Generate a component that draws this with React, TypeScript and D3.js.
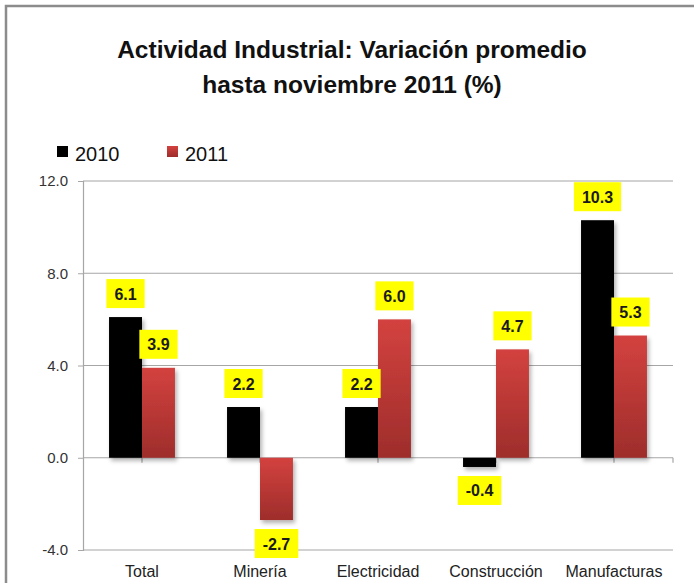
import React, { useEffect, useRef } from "react";
import * as d3 from "d3";

const categories = ["Total", "Minería", "Electricidad", "Construcción", "Manufacturas"];
const seriesNames = ["2010", "2011"];
const values2010 = [6.1, 2.2, 2.2, -0.4, 10.3];
const values2011 = [3.9, -2.7, 6.0, 4.7, 5.3];
const yTicks = [-4, 0, 4, 8, 12];
const titleLines = ["Actividad Industrial: Variación promedio", "hasta noviembre 2011 (%)"];

const W = 694;
const H = 583;
const fmt = (v: number) => v.toFixed(1);

export default function App() {
  const ref = useRef<SVGSVGElement | null>(null);

  useEffect(() => {
    const svg = d3.select(ref.current);
    svg.selectAll("*").remove();

    const defs = svg.append("defs");
    const grad = defs
      .append("linearGradient")
      .attr("id", "redGrad")
      .attr("x1", 0)
      .attr("y1", 0)
      .attr("x2", 0)
      .attr("y2", 1);
    grad.append("stop").attr("offset", "0%").attr("stop-color", "#d3423f");
    grad.append("stop").attr("offset", "100%").attr("stop-color", "#9e2d2b");
    const f = defs
      .append("filter")
      .attr("id", "shadow")
      .attr("x", "-30%")
      .attr("y", "-10%")
      .attr("width", "160%")
      .attr("height", "130%");
    f.append("feDropShadow")
      .attr("dx", 2)
      .attr("dy", 3)
      .attr("stdDeviation", 2)
      .attr("flood-color", "#000")
      .attr("flood-opacity", 0.3);

    // background + frame
    svg.append("rect").attr("x", 0).attr("y", 0).attr("width", W).attr("height", H).attr("fill", "#fff");
    svg
      .append("path")
      .attr("d", `M6,${H} L6,6 L${W},6`)
      .attr("fill", "none")
      .attr("stroke", "#8c8c8c")
      .attr("stroke-width", 2.5);

    const left = 83;
    const right = 673;
    const y = d3.scaleLinear().domain([-4, 12]).range([550, 181]);
    const x = d3.scaleBand<string>().domain(categories).range([left, right]).paddingInner(0).paddingOuter(0);
    const xs = d3
      .scaleBand<string>()
      .domain(seriesNames)
      .range([0, x.bandwidth()])
      .paddingInner(0)
      .paddingOuter(0.79);

    // title
    svg
      .append("g")
      .selectAll("text")
      .data(titleLines)
      .join("text")
      .attr("x", 352)
      .attr("y", (_d, i) => 58 + i * 35)
      .attr("text-anchor", "middle")
      .attr("font-family", "Liberation Sans, Arial, sans-serif")
      .attr("font-weight", "bold")
      .attr("font-size", 24.5)
      .attr("fill", "#111")
      .text((d) => d);

    // legend
    const legendX = [57, 167];
    const legendFill = ["#000", "url(#redGrad)"];
    seriesNames.forEach((s, i) => {
      svg
        .append("rect")
        .attr("x", legendX[i])
        .attr("y", 146)
        .attr("width", 11)
        .attr("height", 11)
        .attr("fill", legendFill[i]);
      svg
        .append("text")
        .attr("x", legendX[i] + 18)
        .attr("y", 161)
        .attr("font-family", "Liberation Sans, Arial, sans-serif")
        .attr("font-size", 20)
        .attr("fill", "#111")
        .text(s);
    });

    // gridlines
    svg
      .append("g")
      .selectAll("line")
      .data(yTicks)
      .join("line")
      .attr("x1", left)
      .attr("x2", right)
      .attr("y1", (d) => y(d))
      .attr("y2", (d) => y(d))
      .attr("stroke", "#a6a6a6")
      .attr("stroke-width", 1.2);

    // y axis
    const yAxis = d3
      .axisLeft(y)
      .tickValues(yTicks)
      .tickSize(5)
      .tickPadding(10)
      .tickFormat((d) => fmt(d as number));
    const ya = svg.append("g").attr("transform", `translate(${left},0)`).call(yAxis);
    ya.select(".domain").attr("stroke", "#a6a6a6").attr("stroke-width", 1.2);
    ya.selectAll(".tick line").attr("stroke", "#a6a6a6");
    ya.selectAll(".tick text")
      .attr("font-family", "Liberation Sans, Arial, sans-serif")
      .attr("font-size", 15)
      .attr("fill", "#333");

    // x ticks on zero line at category centres + right end
    const tickXs = categories.map((c) => (x(c) as number) + x.bandwidth() / 2).concat([right]);
    svg
      .append("g")
      .selectAll("line")
      .data(tickXs)
      .join("line")
      .attr("x1", (d) => d)
      .attr("x2", (d) => d)
      .attr("y1", y(0))
      .attr("y2", y(0) + 5)
      .attr("stroke", "#a6a6a6")
      .attr("stroke-width", 1.2);

    // category labels
    svg
      .append("g")
      .selectAll("text")
      .data(categories)
      .join("text")
      .attr("x", (d) => (x(d) as number) + x.bandwidth() / 2)
      .attr("y", 577)
      .attr("text-anchor", "middle")
      .attr("font-family", "Liberation Sans, Arial, sans-serif")
      .attr("font-size", 16)
      .attr("fill", "#222")
      .text((d) => d);

    // bars
    const rows = categories.flatMap((c, i) => [
      { c, s: "2010", v: values2010[i] },
      { c, s: "2011", v: values2011[i] },
    ]);
    svg
      .append("g")
      .attr("filter", "url(#shadow)")
      .selectAll("rect")
      .data(rows)
      .join("rect")
      .attr("x", (d) => (x(d.c) as number) + (xs(d.s) as number))
      .attr("width", xs.bandwidth())
      .attr("y", (d) => Math.min(y(d.v), y(0)))
      .attr("height", (d) => Math.abs(y(d.v) - y(0)))
      .attr("fill", (d) => (d.s === "2010" ? "#000" : "url(#redGrad)"));

    // labels
    const lg = svg.append("g");
    rows.forEach((d) => {
      const cx = (x(d.c) as number) + (xs(d.s) as number) + xs.bandwidth() / 2;
      const g = lg.append("g");
      const t = g
        .append("text")
        .attr("x", cx)
        .attr("text-anchor", "middle")
        .attr("font-family", "Liberation Sans, Arial, sans-serif")
        .attr("font-weight", "bold")
        .attr("font-size", 16)
        .attr("fill", "#1a1a1a")
        .text(fmt(d.v));
      const tw = (t.node() as SVGTextElement).getComputedTextLength();
      const bh = 29;
      const bw = tw + 16;
      const top = d.v >= 0 ? y(d.v) - 9 - bh : y(d.v) + 9;
      t.attr("y", top + bh / 2 + 6);
      g.insert("rect", "text")
        .attr("x", cx - bw / 2)
        .attr("y", top)
        .attr("width", bw)
        .attr("height", bh)
        .attr("fill", "#ffff00");
    });
  }, []);

  return (
    <svg
      ref={ref}
      width={W}
      height={H}
      style={{ position: "absolute", left: 0, top: 0, display: "block" }}
    />
  );
}
